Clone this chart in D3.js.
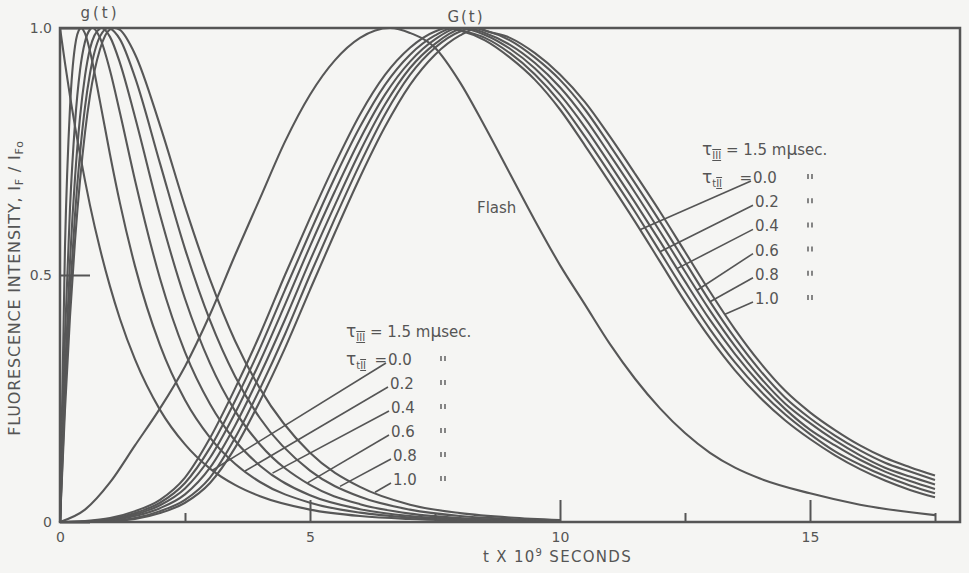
<!DOCTYPE html>
<html>
<head>
<meta charset="utf-8">
<script src="https://cdn.jsdelivr.net/npm/d3@7"></script>
<style>
  body { margin: 0; background: #f5f5f3; }
  svg { display: block; }
  .lbl { font-family: "DejaVu Sans", sans-serif; fill: #555; }
  .curve { fill: none; stroke: #575757; stroke-width: 2.1; }
  .leader { stroke: #555; stroke-width: 1.6; }
  .ditto { stroke: #555; stroke-width: 1.4; }
</style>
</head>
<body>
<div class="chart"></div>
<script>
// ---- data ----
// flash
const tFlash = [0, 0.5, 1, 1.5, 2, 2.5, 3, 3.5, 4, 4.5, 5, 5.5, 6, 6.6, 7, 7.5, 8, 8.5, 9, 9.5, 10, 10.5, 11, 11.5, 12, 12.5, 13, 13.5, 14, 15, 16, 17.5]
const flash = [0, 0.025, 0.08, 0.155, 0.23, 0.315, 0.42, 0.54, 0.655, 0.77, 0.865, 0.935, 0.98, 1.0, 0.99, 0.96, 0.89, 0.80, 0.705, 0.61, 0.52, 0.44, 0.36, 0.29, 0.23, 0.18, 0.14, 0.11, 0.088, 0.058, 0.035, 0.014]

// G(t) curves, tau_tII = 0.0 ... 1.0
const tG = [0, 0.5, 1, 1.5, 2, 2.5, 3, 3.5, 4, 4.5, 5, 5.5, 6, 6.5, 7, 7.5, 8, 8.5, 9, 9.5, 10, 10.5, 11, 11.5, 12, 12.5, 13, 13.5, 14, 14.5, 15, 15.5, 16, 16.5, 17, 17.5]
const G00 = [0, 0.002, 0.008, 0.022, 0.045, 0.09, 0.17, 0.27, 0.38, 0.50, 0.615, 0.725, 0.825, 0.905, 0.96, 0.993, 0.995, 0.975, 0.94, 0.895, 0.835, 0.762, 0.686, 0.608, 0.527, 0.446, 0.372, 0.307, 0.252, 0.206, 0.168, 0.135, 0.107, 0.084, 0.065, 0.05]
const G02 = [0, 0.001, 0.006, 0.018, 0.039, 0.079, 0.15, 0.245, 0.352, 0.47, 0.586, 0.698, 0.80, 0.885, 0.946, 0.985, 0.996, 0.98, 0.949, 0.906, 0.85, 0.78, 0.705, 0.628, 0.547, 0.466, 0.39, 0.323, 0.266, 0.218, 0.178, 0.143, 0.116, 0.093, 0.074, 0.058]
const G04 = [0, 0.001, 0.005, 0.015, 0.034, 0.068, 0.13, 0.22, 0.325, 0.44, 0.558, 0.67, 0.775, 0.865, 0.932, 0.977, 1.0, 0.986, 0.958, 0.918, 0.865, 0.799, 0.724, 0.647, 0.568, 0.487, 0.409, 0.34, 0.28, 0.229, 0.187, 0.155, 0.126, 0.102, 0.083, 0.067]
const G06 = [0, 0, 0.003, 0.012, 0.028, 0.056, 0.11, 0.195, 0.298, 0.41, 0.529, 0.642, 0.75, 0.845, 0.919, 0.968, 0.998, 0.99, 0.966, 0.929, 0.88, 0.817, 0.743, 0.667, 0.588, 0.507, 0.428, 0.356, 0.293, 0.24, 0.2, 0.165, 0.135, 0.11, 0.092, 0.076]
const G08 = [0, 0, 0.002, 0.008, 0.022, 0.045, 0.09, 0.17, 0.27, 0.38, 0.50, 0.615, 0.725, 0.825, 0.905, 0.96, 0.993, 0.995, 0.975, 0.94, 0.895, 0.835, 0.762, 0.686, 0.608, 0.527, 0.446, 0.372, 0.307, 0.252, 0.21, 0.175, 0.145, 0.12, 0.102, 0.085]
const G10 = [0, 0, 0.001, 0.006, 0.018, 0.039, 0.079, 0.15, 0.245, 0.352, 0.47, 0.586, 0.698, 0.80, 0.885, 0.946, 0.985, 0.995, 0.98, 0.949, 0.906, 0.85, 0.78, 0.705, 0.628, 0.547, 0.466, 0.39, 0.323, 0.266, 0.222, 0.186, 0.155, 0.13, 0.111, 0.094]
const GpeakT = [7.75, 7.875, 8.0, 8.125, 8.25, 8.375]

// g(t) curves, tau_tII = 0.0 ... 1.0
const tg = [0, 0.1, 0.2, 0.3, 0.4, 0.5, 0.6, 0.8, 1.0, 1.2, 1.5, 2, 2.5, 3, 3.5, 4, 5, 6, 7, 8, 9, 10]
const g00 = [1, 0.929, 0.862, 0.801, 0.744, 0.691, 0.641, 0.553, 0.477, 0.411, 0.329, 0.227, 0.157, 0.108, 0.075, 0.052, 0.025, 0.012, 0.006, 0.003, 0.001, 0.001]
const g02 = [0, 0.558, 0.839, 0.963, 0.999, 0.989, 0.953, 0.851, 0.744, 0.645, 0.518, 0.358, 0.247, 0.171, 0.118, 0.081, 0.039, 0.019, 0.009, 0.004, 0.002, 0.001]
const g04 = [0, 0.377, 0.636, 0.807, 0.914, 0.972, 0.997, 0.980, 0.914, 0.828, 0.692, 0.493, 0.344, 0.239, 0.165, 0.114, 0.054, 0.026, 0.012, 0.006, 0.003, 0.001]
const g06 = [0, 0.300, 0.527, 0.696, 0.819, 0.903, 0.958, 0.999, 0.982, 0.929, 0.820, 0.622, 0.452, 0.321, 0.225, 0.157, 0.075, 0.036, 0.017, 0.008, 0.004, 0.002]
const g08 = [0, 0.256, 0.461, 0.622, 0.746, 0.840, 0.908, 0.983, 0.999, 0.977, 0.900, 0.726, 0.553, 0.408, 0.295, 0.210, 0.104, 0.051, 0.025, 0.012, 0.006, 0.003]
const g10 = [0, 0.228, 0.416, 0.569, 0.691, 0.788, 0.863, 0.957, 0.997, 0.996, 0.947, 0.803, 0.639, 0.491, 0.367, 0.270, 0.140, 0.071, 0.035, 0.018, 0.009, 0.004]
const gpeakT = [null, 0.42, 0.65, 0.825, 0.97, 1.095]

const tauLabels = ['0.0', '0.2', '0.4', '0.6', '0.8', '1.0']
// where each leader line touches its curve (t value)
const gLeaderT = [3.05, 3.7, 4.25, 4.95, 5.6, 6.3]
const GLeaderT = [11.6, 12.0, 12.34, 12.74, 13.0, 13.3]

// ---- setup ----
const width = 969
const height = 573

const svg = d3.select('.chart')
  .append('svg')
  .attr('width', width)
  .attr('height', height)

svg.append('rect')
  .attr('width', width)
  .attr('height', height)
  .attr('fill', '#f5f5f3')

const x = d3.scaleLinear().domain([0, 18]).range([60, 960])
const y = d3.scaleLinear().domain([0, 1]).range([522, 28])

const line = d3.line()
  .x(d => x(d[0]))
  .y(d => y(d[1]))
  .curve(d3.curveMonotoneX)

// put the peak (value 1) into the table if it's not on the grid
const toPoints = function(ts, vs, peakT) {
  const pts = ts.map((t, i) => [t, vs[i]])
  if (peakT != null && !ts.includes(peakT)) {
    pts.push([peakT, 1])
    pts.sort((a, b) => a[0] - b[0])
  }
  return pts
}

const valueAt = function(pts, t) {
  const i = d3.bisector(d => d[0]).left(pts, t)
  if (i <= 0) return pts[0][1]
  const a = pts[i - 1], b = pts[i]
  return a[1] + (b[1] - a[1]) * (t - a[0]) / (b[0] - a[0])
}

const gCurves = [g00, g02, g04, g06, g08, g10].map((vs, i) => toPoints(tg, vs, gpeakT[i]))
const GCurves = [G00, G02, G04, G06, G08, G10].map((vs, i) => toPoints(tG, vs, GpeakT[i]))
const flashCurve = toPoints(tFlash, flash, null)

// ---- curves ----
svg.append('g')
  .selectAll('path')
  .data([flashCurve, ...GCurves, ...gCurves])
  .join('path')
  .attr('class', 'curve')
  .attr('d', line)

// ---- axes ----
const styleAxis = function(g) {
  g.attr('font-family', '"DejaVu Sans", sans-serif')
    .attr('font-size', 14)
    .attr('color', '#555')
  g.selectAll('.tick line').attr('stroke-width', 2)
  g.select('.domain').remove()
}

const xMajor = d3.axisBottom(x)
  .tickValues([0, 5, 10, 15])
  .tickSize(-22)
  .tickPadding(10)
  .tickFormat(d3.format('d'))

const xMinor = d3.axisBottom(x)
  .tickValues([2.5, 7.5, 12.5, 17.5])
  .tickSize(-9)
  .tickFormat('')

const yAxis = d3.axisLeft(y)
  .tickValues([0, 0.5, 1])
  .tickSize(-30)
  .tickPadding(8)
  .tickFormat(d => d === 0 ? '0' : d3.format('.1f')(d))

svg.append('g').attr('transform', 'translate(0,522)').call(xMajor).call(styleAxis)
svg.append('g').attr('transform', 'translate(0,522)').call(xMinor).call(styleAxis)
svg.append('g').attr('transform', 'translate(60,0)').call(yAxis).call(styleAxis)

// frame
svg.append('rect')
  .attr('x', x(0))
  .attr('y', y(1))
  .attr('width', x(18) - x(0))
  .attr('height', y(0) - y(1))
  .attr('fill', 'none')
  .attr('stroke', '#555')
  .attr('stroke-width', 2.5)

// ---- titles ----
const xTitle = svg.append('text')
  .attr('class', 'lbl')
  .attr('x', 483)
  .attr('y', 562)
  .attr('font-size', 15)
  .attr('letter-spacing', 1.3)
xTitle.append('tspan').text('t X 10')
xTitle.append('tspan').attr('font-size', 10).attr('dy', -6).text('9')
xTitle.append('tspan').attr('dy', 6).text('  SECONDS')

const yTitle = svg.append('text')
  .attr('class', 'lbl')
  .attr('text-anchor', 'middle')
  .attr('font-size', 16)
  .attr('letter-spacing', 0.8)
  .attr('transform', 'translate(20,288) rotate(-90)')
yTitle.append('tspan').text('FLUORESCENCE  INTENSITY,  I')
yTitle.append('tspan').attr('font-size', 11).attr('dy', 3).text('F')
yTitle.append('tspan').attr('dy', -3).text(' / I')
yTitle.append('tspan').attr('font-size', 11).attr('dy', 3).text('Fo')

svg.append('text')
  .attr('class', 'lbl')
  .attr('x', 100)
  .attr('y', 18)
  .attr('text-anchor', 'middle')
  .attr('font-size', 15)
  .attr('letter-spacing', 3)
  .text('g(t)')

svg.append('text')
  .attr('class', 'lbl')
  .attr('x', 466)
  .attr('y', 22)
  .attr('text-anchor', 'middle')
  .attr('font-size', 15)
  .attr('letter-spacing', 2)
  .text('G(t)')

svg.append('text')
  .attr('class', 'lbl')
  .attr('x', 477)
  .attr('y', 213)
  .attr('font-size', 15)
  .text('Flash')

// ---- tau label blocks with leader lines ----
const drawTauBlock = function(opt) {
  const g = svg.append('g').attr('class', 'lbl').attr('font-size', 15)

  const t1 = g.append('text').attr('x', opt.x0).attr('y', opt.y0)
  t1.append('tspan').attr('font-size', 17).text('τ')
  t1.append('tspan').attr('font-size', 10).attr('dy', 4)
    .attr('text-decoration', 'underline overline').text('III')
  t1.append('tspan').attr('dy', -4).text(' = 1.5 m')
  t1.append('tspan').attr('font-size', 17).text('μ')
  t1.append('tspan').text('sec.')

  const t2 = g.append('text').attr('x', opt.x0).attr('y', opt.y0 + 28)
  t2.append('tspan').attr('font-size', 17).text('τ')
  t2.append('tspan').attr('font-size', 10).attr('dy', 4).text('t')
  t2.append('tspan').attr('font-size', 10)
    .attr('text-decoration', 'underline overline').text('II')
  g.append('text')
    .attr('x', opt.digitX[0] - 1)
    .attr('y', opt.y0 + 28)
    .attr('text-anchor', 'end')
    .text('=')

  tauLabels.forEach((lab, i) => {
    const yb = opt.y0 + 28 + i * opt.step
    const lx = opt.digitX[i]
    g.append('text').attr('x', lx).attr('y', yb).text(lab)

    // ditto mark
    ;[0, 4].forEach(dx => {
      svg.append('line')
        .attr('class', 'ditto')
        .attr('x1', opt.dittoX + dx).attr('x2', opt.dittoX + dx)
        .attr('y1', yb - 9).attr('y2', yb - 4)
    })

    const pts = opt.curves[i]
    const tEnd = opt.leaderT[i]
    svg.append('line')
      .attr('class', 'leader')
      .attr('x1', lx - 2)
      .attr('y1', yb - 2)
      .attr('x2', x(tEnd))
      .attr('y2', y(valueAt(pts, tEnd)))
  })
}

drawTauBlock({
  x0: 346, y0: 337, step: 24,
  digitX: [388, 390, 391, 391, 393, 393],
  dittoX: 441,
  curves: gCurves,
  leaderT: gLeaderT
})

drawTauBlock({
  x0: 702, y0: 155, step: 24.2,
  digitX: [753, 755, 755, 755, 755, 755],
  dittoX: 808,
  curves: GCurves,
  leaderT: GLeaderT
})
</script>
</body>
</html>
